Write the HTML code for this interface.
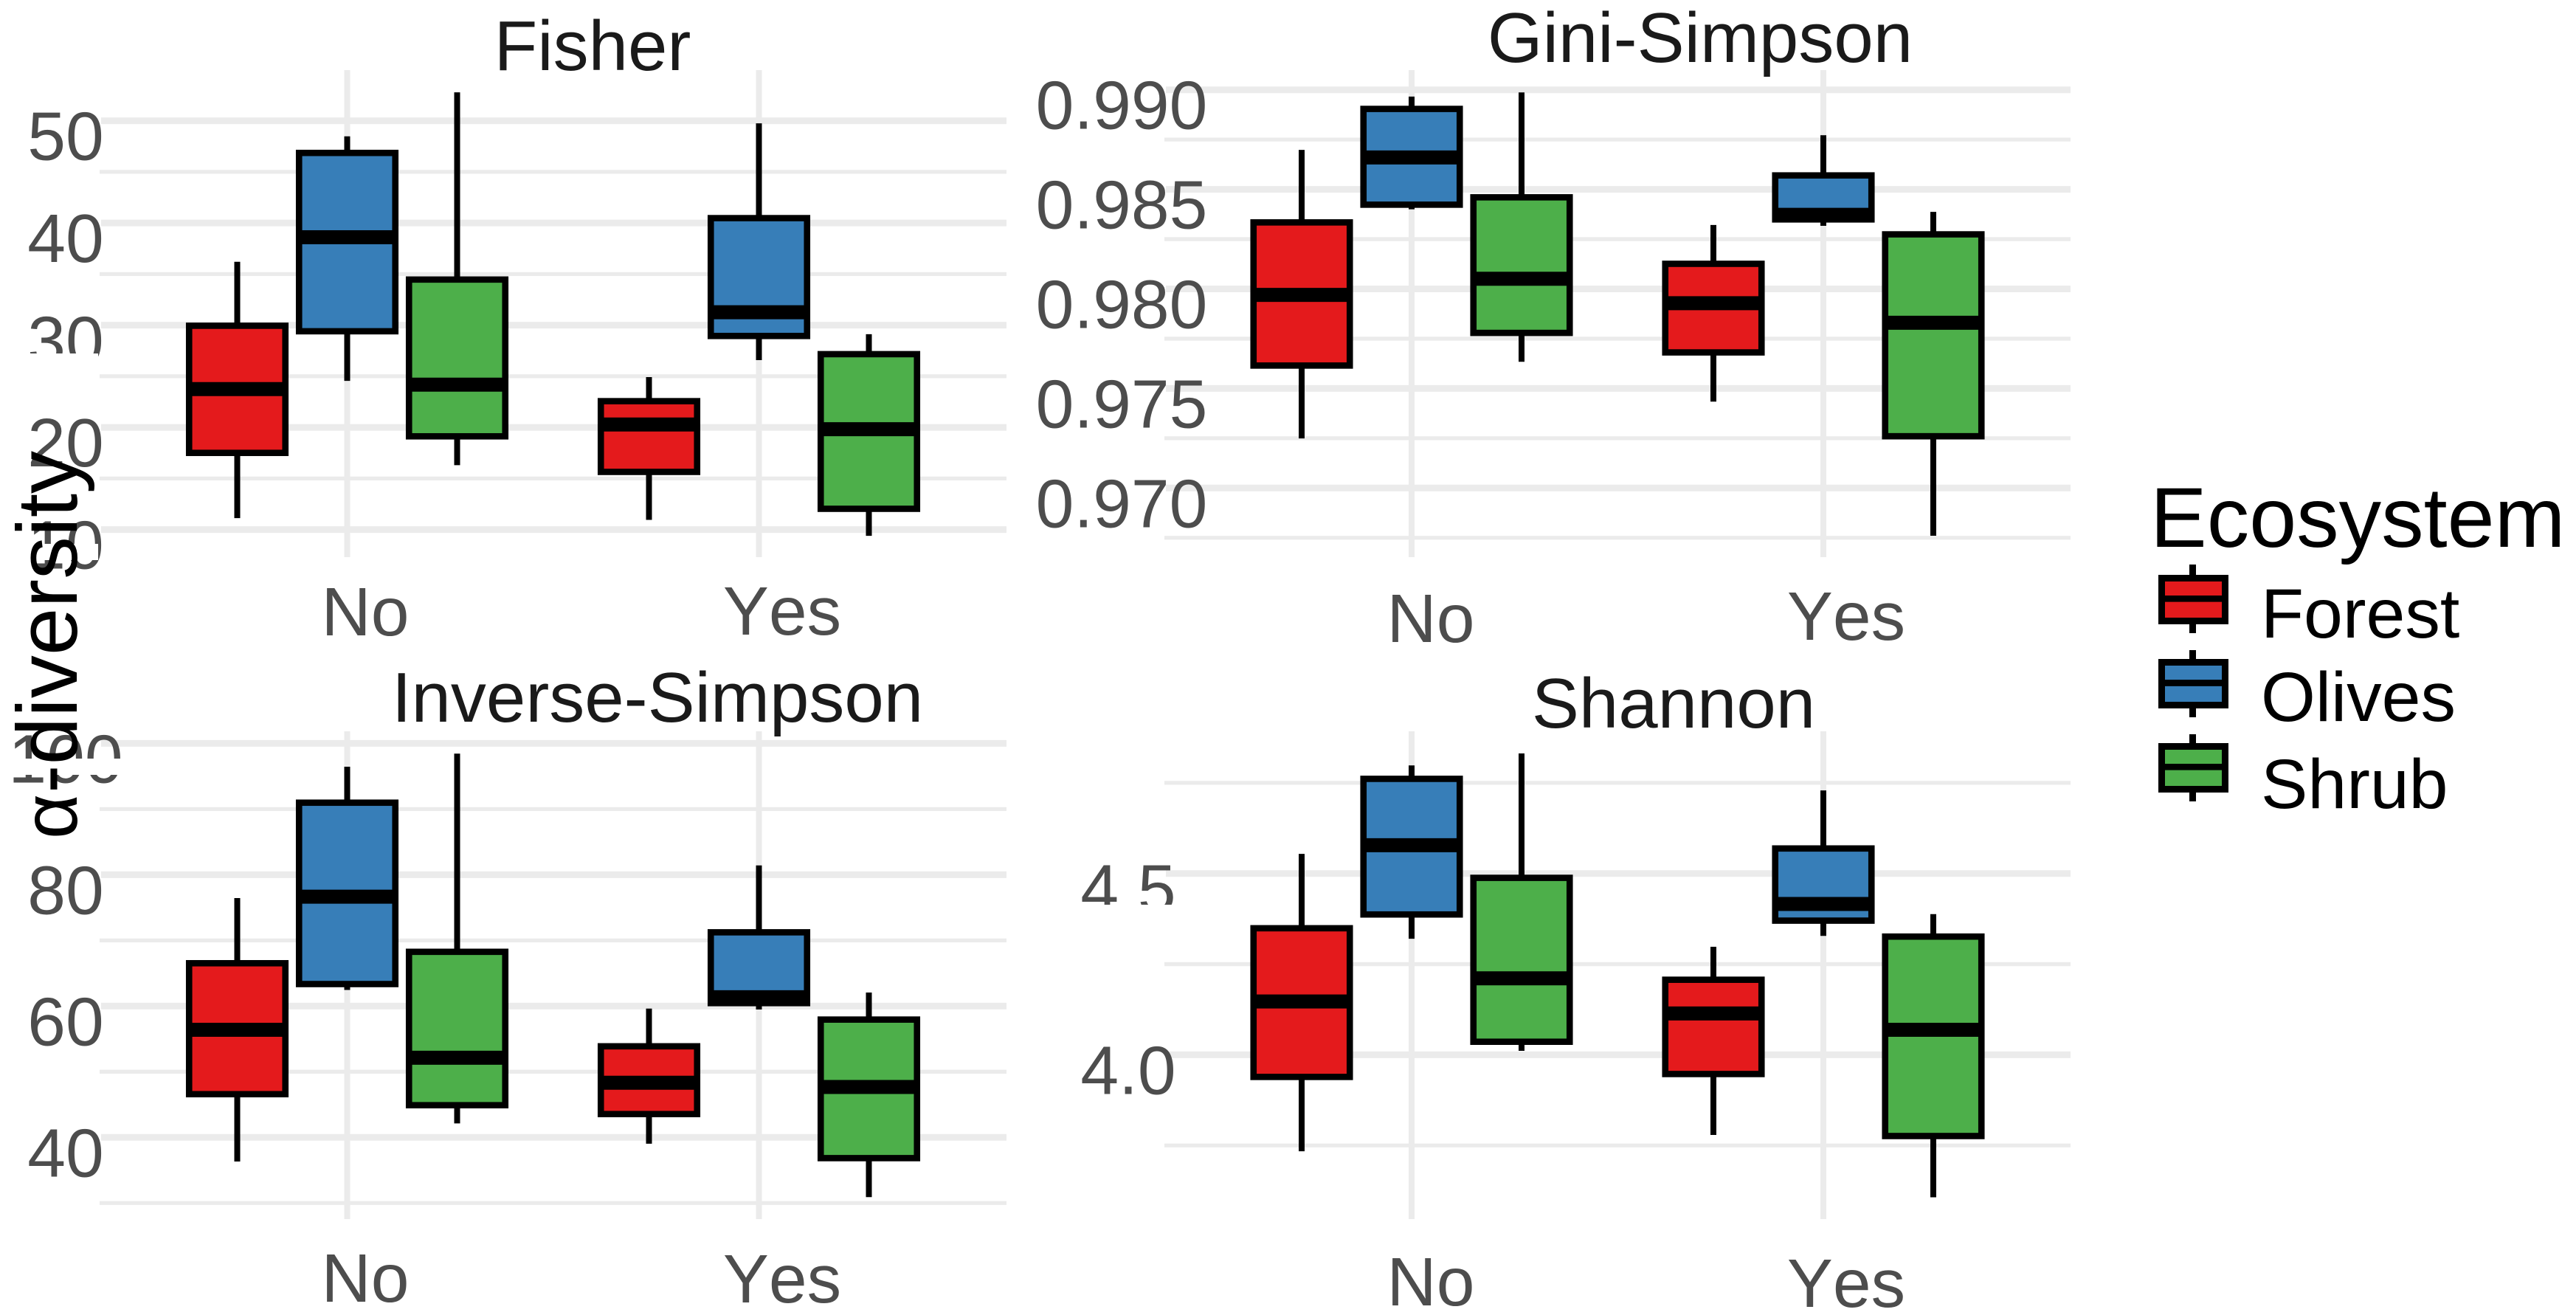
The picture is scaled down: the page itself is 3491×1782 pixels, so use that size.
<!DOCTYPE html>
<html lang="en">
<head>
<meta charset="utf-8">
<title>Alpha diversity boxplots</title>
<style>
html,body{margin:0;padding:0;background:#fff;}
svg{display:block;}
text{font-family:"Liberation Sans",Arial,sans-serif;font-kerning:none;}
</style>
</head>
<body>
<svg id="chart" xmlns="http://www.w3.org/2000/svg" width="3491" height="1782" viewBox="0 0 3491 1782">
  <rect x="0" y="0" width="3491" height="1782" fill="#ffffff"/>
  <g id="panels"></g>
  <g fill="#ffffff">
    <rect x="28" y="479" width="105" height="22"/>
    <rect x="28" y="737" width="105" height="22"/>
    <rect x="5" y="1028" width="165" height="22"/>
    <rect x="1450" y="1226" width="160" height="22"/>
  </g>
  <text transform="translate(104,0) rotate(-90)" font-size="116" fill="#000000"><tspan x="-1137" font-size="106">α</tspan><tspan x="-1075">-diversity</tspan></text>
  <g>
    <text x="2914" y="741" font-size="115" fill="#000000">Ecosystem</text>
    <g>
      <line x1="2971.5" x2="2971.5" y1="765" y2="858" stroke="#000" stroke-width="9"/>
      <rect x="2929.5" y="783.5" width="86" height="58" fill="#e41a1c" stroke="#000" stroke-width="9"/>
      <line x1="2929" x2="3016" y1="811.3" y2="811.3" stroke="#000" stroke-width="8.7"/>
      <text x="3064" y="864" font-size="95" fill="#000000">Forest</text>
    </g>
    <g>
      <line x1="2971.5" x2="2971.5" y1="881" y2="972" stroke="#000" stroke-width="9"/>
      <rect x="2929.5" y="897.5" width="86" height="58" fill="#377eb8" stroke="#000" stroke-width="9"/>
      <line x1="2929" x2="3016" y1="925.5" y2="925.5" stroke="#000" stroke-width="8.7"/>
      <text x="3064" y="977" font-size="95" fill="#000000">Olives</text>
    </g>
    <g>
      <line x1="2971.5" x2="2971.5" y1="995" y2="1086" stroke="#000" stroke-width="9"/>
      <rect x="2929.5" y="1011.5" width="86" height="58" fill="#4daf4a" stroke="#000" stroke-width="9"/>
      <line x1="2929" x2="3016" y1="1039.3" y2="1039.3" stroke="#000" stroke-width="8.7"/>
      <text x="3064" y="1095" font-size="95" fill="#000000">Shrub</text>
    </g>
  </g>
</svg>
<script>
// Categories and series
const categories = ["No", "Yes"];
const ecosystems = ["Forest", "Olives", "Shrub"];

// Fisher (order: No Forest/Olives/Shrub, Yes Forest/Olives/Shrub)
const fisherLower  = [11.12, 24.55, 16.3, 10.95, 26.58, 9.38];
const fisherQ1     = [17.5, 29.4, 19.12, 15.64, 28.94, 12.03];
const fisherMedian = [23.74, 38.6, 24.18, 20.28, 31.26, 19.82];
const fisherQ3     = [29.94, 46.85, 34.46, 22.56, 40.47, 27.16];
const fisherUpper  = [36.2, 48.47, 52.78, 24.92, 49.75, 29.11];
const fisherMajor  = [10, 20, 30, 40, 50];
const fisherMinor  = [15, 25, 35, 45];
const fisherLabels = ["10", "20", "30", "40", "50"];

// Gini-Simpson
const giniLower  = [0.97249, 0.984, 0.97634, 0.97434, 0.98317, 0.9676];
const giniQ1     = [0.97615, 0.98423, 0.97779, 0.97681, 0.98349, 0.9726];
const giniMedian = [0.9797, 0.9866, 0.98051, 0.97928, 0.98372, 0.9783];
const giniQ3     = [0.98334, 0.98904, 0.9846, 0.98126, 0.9857, 0.98274];
const giniUpper  = [0.98698, 0.98966, 0.98987, 0.98321, 0.98772, 0.98387];
const giniMajor  = [0.970, 0.975, 0.980, 0.985, 0.990];
const giniMinor  = [0.9675, 0.9725, 0.9775, 0.9825, 0.9875];
const giniLabels = ["0.970", "0.975", "0.980", "0.985", "0.990"];

// Inverse-Simpson
const inverseLower  = [36.32, 62.45, 42.13, 39.03, 59.48, 30.9];
const inverseQ1     = [46.58, 63.35, 44.9, 43.55, 60.45, 36.84];
const inverseMedian = [56.39, 76.65, 52.13, 48.32, 61.35, 47.68];
const inverseQ3     = [66.52, 90.97, 68.26, 53.87, 71.23, 57.94];
const inverseUpper  = [76.45, 96.45, 98.45, 59.61, 81.42, 62.06];
const inverseMajor  = [40, 60, 80, 100];
const inverseMinor  = [30, 50, 70, 90];
const inverseLabels = ["40", "60", "80", "100"];

// Shannon
const shannonLower  = [3.734, 4.32, 4.011, 3.779, 4.328, 3.607];
const shannonQ1     = [3.939, 4.387, 4.036, 3.947, 4.37, 3.776];
const shannonMedian = [4.147, 4.578, 4.211, 4.114, 4.416, 4.069];
const shannonQ3     = [4.349, 4.761, 4.488, 4.207, 4.569, 4.326];
const shannonUpper  = [4.554, 4.798, 4.831, 4.298, 4.729, 4.388];
const shannonMajor  = [4.0, 4.5];
const shannonMinor  = [3.75, 4.25, 4.75];
const shannonLabels = ["4.0", "4.5"];

const colours = ["#e41a1c", "#377eb8", "#4daf4a"];
const SVG_NS = "http://www.w3.org/2000/svg";
const root = document.getElementById("panels");

function make(parent, tag, attrs) {
  const el = document.createElementNS(SVG_NS, tag);
  for (const k in attrs) el.setAttribute(k, attrs[k]);
  parent.appendChild(el);
  return el;
}

function linearScale(v0, p0, v1, p1) {
  return function (v) { return p0 + (v - v0) * (p1 - p0) / (v1 - v0); };
}

function drawPanel(cfg) {
  const slug = cfg.slug;
  const g = make(root, "g", {});
  
  

  const y = linearScale(cfg.v0, cfg.p0, cfg.v1, cfg.p1);
  const xCat = function (i) { return cfg.xNo + i * 558; };
  const xBox = function (c, s) { return xCat(c) + (s - 1) * 149; };

  // minor horizontal grid
  cfg.minor.forEach(function (v) {
    const el = make(g, "line", {x1: cfg.left, x2: cfg.right, y1: y(v), y2: y(v), stroke: "#ebebeb", "stroke-width": 5.3});
    
    
  });
  // major horizontal grid
  cfg.major.forEach(function (v) {
    const el = make(g, "line", {x1: cfg.left + 2, x2: cfg.right, y1: y(v), y2: y(v), stroke: "#ebebeb", "stroke-width": 9});
    
    
  });
  // vertical grid
  categories.forEach(function (c, i) {
    const el = make(g, "line", {x1: xCat(i), x2: xCat(i), y1: cfg.top, y2: cfg.bottom, stroke: "#ebebeb", "stroke-width": 8});
    
    
  });

  // boxes
  categories.forEach(function (c, ci) {
    ecosystems.forEach(function (e, si) {
      const i = ci * 3 + si;
      const cx = xBox(ci, si);
      const w = 130.5;
      const name = slug + "-" + c.toLowerCase() + "-" + e.toLowerCase();
      const whisker = make(g, "line", {x1: cx, x2: cx, y1: y(cfg.upper[i]), y2: y(cfg.lower[i]), stroke: "#000", "stroke-width": 8});
      
      
      const box = make(g, "rect", {x: cx - w / 2, width: w, y: y(cfg.q3[i]), height: y(cfg.q1[i]) - y(cfg.q3[i]), fill: colours[si], stroke: "#000", "stroke-width": 8.6});
      
      
      const med = make(g, "line", {x1: cx - w / 2, x2: cx + w / 2, y1: y(cfg.median[i]), y2: y(cfg.median[i]), stroke: "#000", "stroke-width": 19});
      
      
    });
  });

  // y tick labels
  cfg.major.forEach(function (v, i) {
    const t = make(g, "text", {x: cfg.labelX, y: y(v) + 53, "text-anchor": "middle", "font-size": 93, fill: "#4d4d4d"});
    t.textContent = cfg.labels[i];
    
    
  });

  // x tick labels
  categories.forEach(function (c, i) {
    const t = make(g, "text", {x: cfg.xLabelX[i], y: cfg.xLabelY[i], "text-anchor": "middle", "font-size": 93, fill: "#4d4d4d"});
    t.textContent = c;
    
    
  });

  // title
  const title = make(g, "text", {x: cfg.titleX, y: cfg.titleY, "text-anchor": "middle", "font-size": 96, fill: "#1a1a1a"});
  title.textContent = cfg.title;
  
  
}

drawPanel({
  slug: "fisher", title: "Fisher", lower: fisherLower, q1: fisherQ1, median: fisherMedian, q3: fisherQ3, upper: fisherUpper,
  major: fisherMajor, minor: fisherMinor, labels: fisherLabels,
  v0: 50, p0: 163.6, v1: 10, p1: 717.6, left: 135, right: 1364, top: 95, bottom: 755, xNo: 470.5,
  labelX: 89, xLabelX: [495, 1060], xLabelY: [861, 860], titleX: 803, titleY: 95
});
drawPanel({
  slug: "gini-simpson", title: "Gini-Simpson", lower: giniLower, q1: giniQ1, median: giniMedian, q3: giniQ3, upper: giniUpper,
  major: giniMajor, minor: giniMinor, labels: giniLabels,
  v0: 0.990, p0: 121.7, v1: 0.970, p1: 661.3, left: 1578, right: 2806, top: 95, bottom: 755, xNo: 1913,
  labelX: 1520, xLabelX: [1939, 2502], xLabelY: [870, 867], titleX: 2304, titleY: 84
});
drawPanel({
  slug: "inverse-simpson", title: "Inverse-Simpson", lower: inverseLower, q1: inverseQ1, median: inverseMedian, q3: inverseQ3, upper: inverseUpper,
  major: inverseMajor, minor: inverseMinor, labels: inverseLabels,
  v0: 100, p0: 1007.4, v1: 40, p1: 1541.3, left: 135, right: 1364, top: 991, bottom: 1652, xNo: 470.5,
  labelX: 89, xLabelX: [495, 1060], xLabelY: [1764, 1765], titleX: 891, titleY: 978
});
drawPanel({
  slug: "shannon", title: "Shannon", lower: shannonLower, q1: shannonQ1, median: shannonMedian, q3: shannonQ3, upper: shannonUpper,
  major: shannonMajor, minor: shannonMinor, labels: shannonLabels,
  v0: 4.5, p0: 1183.7, v1: 4.0, p1: 1429.4, left: 1578, right: 2806, top: 991, bottom: 1652, xNo: 1913,
  labelX: 1529, xLabelX: [1939, 2502], xLabelY: [1769, 1771], titleX: 2268, titleY: 986
});
</script>
</body>
</html>
